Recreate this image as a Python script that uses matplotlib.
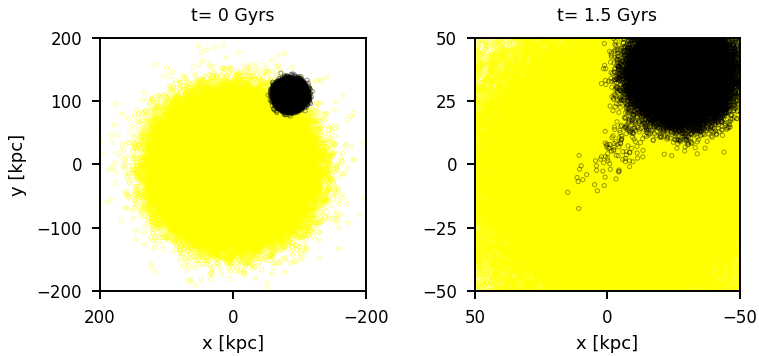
import numpy as np
import matplotlib
matplotlib.use("Agg")
import matplotlib.pyplot as plt

# Snapshot settings
titles = ["t= 0 Gyrs", "t= 1.5 Gyrs"]
x_limits = [(200, -200), (50, -50)]
y_limits = [(-200, 200), (-50, 50)]
x_ticks = [[200, 0, -200], [50, 0, -50]]
y_ticks = [[-200, -100, 0, 100, 200], [-50, -25, 0, 25, 50]]

# Particle clouds: [centre x, centre y, core radius, edge softness, count] (kpc)
host_disk_t0 = [0, -6, 108, 24, 70000]
host_halo_t0 = [0, -6, 145, 205, 200]
satellite_t0 = [-86, 110, 21, 5, 12000]

# central part of the host at t=1.5: [centre x, centre y, sigma, count]
host_core_t15 = [-5, -3, 30, 120000]
satellite_t15 = [-28, 36, 17, 5, 30000]
# stripped tail of the satellite: [start x, start y, end x, end y, spread, count]
tail_t15 = [-10, 16, 3, -5, 3, 120]

rng = np.random.default_rng(3)


def disk(cx, cy, radius, soft, n):
    r = radius * np.sqrt(rng.random(n)) + rng.normal(0, soft, n)
    phi = rng.random(n) * 2 * np.pi
    return cx + r * np.cos(phi), cy + r * np.sin(phi)


def shell(cx, cy, rmin, rmax, n):
    r = rmin + (rmax - rmin) * rng.random(n) ** 1.6
    phi = rng.random(n) * 2 * np.pi
    return cx + r * np.cos(phi), cy + r * np.sin(phi)


def gauss(cx, cy, sigma, n):
    return cx + rng.normal(0, sigma, n), cy + rng.normal(0, sigma, n)


def tail(x0, y0, x1, y1, spread, n):
    t = rng.random(n) ** 1.5
    return (x0 + (x1 - x0) * t + rng.normal(0, spread, n) * (1 + t),
            y0 + (y1 - y0) * t + rng.normal(0, spread, n) * (1 + t))


fig = plt.figure(figsize=(7.59, 3.56), dpi=100)
ax1 = fig.add_axes([0.1318, 0.1826, 0.3505, 0.7107])
ax2 = fig.add_axes([0.6258, 0.1826, 0.3491, 0.7107])

style = dict(s=9, marker='o', facecolors='none', linewidths=0.7)

# t = 0
hx, hy = disk(*host_disk_t0)
ox, oy = shell(*host_halo_t0)
sx, sy = disk(*satellite_t0)
ax1.scatter(np.r_[hx, ox], np.r_[hy, oy], edgecolors='yellow', alpha=0.4, **style)
ax1.scatter(sx, sy, edgecolors='black', alpha=0.4, **style)

# t = 1.5
hx, hy = gauss(*host_core_t15)
keep = (np.abs(hx) < 55) & (np.abs(hy) < 55)
sx, sy = disk(*satellite_t15)
tx, ty = tail(*tail_t15)
ax2.scatter(hx[keep], hy[keep], edgecolors='yellow', alpha=0.4, **style)
ax2.scatter(np.r_[sx, tx, 15], np.r_[sy, ty, -11], edgecolors='black', alpha=0.4, **style)

for ax, title, xl, yl, xt, yt in zip([ax1, ax2], titles, x_limits, y_limits, x_ticks, y_ticks):
    ax.set_xlim(*xl)
    ax.set_ylim(*yl)
    ax.set_xticks(xt)
    ax.set_yticks(yt)
    ax.set_title(title, fontsize=12.5, pad=12)
    ax.set_xlabel('x [kpc]', fontsize=13, labelpad=6)
    ax.tick_params(labelsize=12, width=1.4, length=6, pad=7)
    for sp in ax.spines.values():
        sp.set_linewidth(1.4)
ax1.set_ylabel('y [kpc]', fontsize=13, labelpad=7)

fig.savefig('out.png', dpi=100)
